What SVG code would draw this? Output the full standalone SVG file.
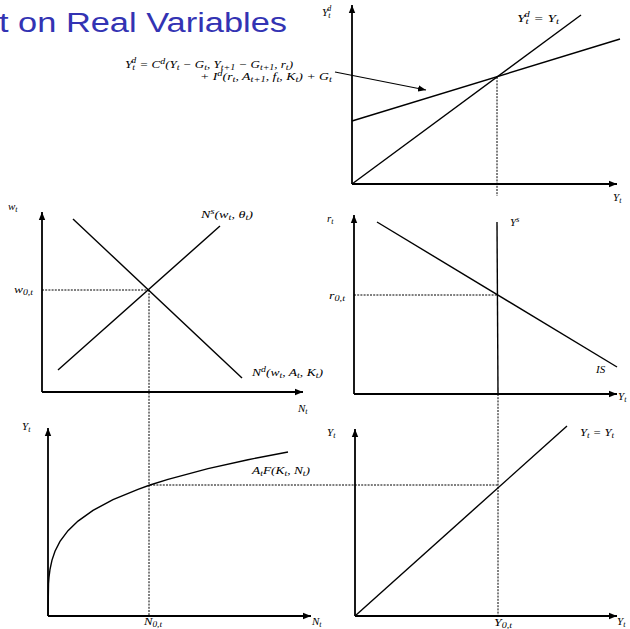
<svg xmlns="http://www.w3.org/2000/svg" width="630" height="629" viewBox="0 0 630 629">
<defs>
<marker id="ah" markerUnits="userSpaceOnUse" markerWidth="9" markerHeight="8" refX="8" refY="4" orient="auto">
<path d="M0,0.8 L8,4 L0,7.2 Z" fill="#000"/>
</marker>
<style>
.ax{stroke:#000;stroke-width:1.8;fill:none;marker-end:url(#ah)}
.cv{stroke:#000;stroke-width:1.4;fill:none}
.dt{stroke:#000;stroke-width:1;stroke-dasharray:2,1.2;fill:none}
.ptr{stroke:#000;stroke-width:1.2;fill:none;marker-end:url(#ah)}
.m{font-family:"Liberation Serif","DejaVu Serif",serif;font-style:italic;font-size:11px;fill:#000}
.eq{font-size:10.5px}
.s{font-size:8px}
.ti{font-family:"Liberation Sans","DejaVu Sans",sans-serif;font-size:27px;fill:#3333B3}
</style>
</defs>
<rect width="630" height="629" fill="#fff"/>
<text class="ti" x="-1" y="32" textLength="288" lengthAdjust="spacingAndGlyphs">t on Real Variables</text>

<g id="panel-goods">
<path class="ax" d="M352,184 V5"/>
<path class="ax" d="M352,184 H617"/>
<path class="cv" d="M352,184 L581,15"/>
<path class="cv" d="M352,121 L620,39"/>
<text class="m" x="322" y="16">Y<tspan class="s" dy="2">t</tspan><tspan class="s" dx="-3" dy="-7">d</tspan></text>
<text class="m" x="517" y="22" textLength="42" lengthAdjust="spacingAndGlyphs">Y<tspan class="s" dy="2">t</tspan><tspan class="s" dx="-3" dy="-7">d</tspan><tspan dy="5"> = Y</tspan><tspan class="s" dy="2">t</tspan></text>
<text class="m" x="613" y="201">Y<tspan class="s" dy="2">t</tspan></text>
<text class="m eq" x="125" y="68" textLength="168" lengthAdjust="spacingAndGlyphs">Y<tspan class="s" dy="2">t</tspan><tspan class="s" dx="-3" dy="-7">d</tspan><tspan dy="5"> = C</tspan><tspan class="s" dy="-4">d</tspan><tspan dy="4">(Y</tspan><tspan class="s" dy="2">t</tspan><tspan dy="-2"> − G</tspan><tspan class="s" dy="2">t</tspan><tspan dy="-2">, Y</tspan><tspan class="s" dy="2">t+1</tspan><tspan dy="-2"> − G</tspan><tspan class="s" dy="2">t+1</tspan><tspan dy="-2">, r</tspan><tspan class="s" dy="2">t</tspan><tspan dy="-2">)</tspan></text>
<text class="m eq" x="200" y="80" textLength="132" lengthAdjust="spacingAndGlyphs">+ I<tspan class="s" dy="-4">d</tspan><tspan dy="4">(r</tspan><tspan class="s" dy="2">t</tspan><tspan dy="-2">, A</tspan><tspan class="s" dy="2">t+1</tspan><tspan dy="-2">, f</tspan><tspan class="s" dy="2">t</tspan><tspan dy="-2">, K</tspan><tspan class="s" dy="2">t</tspan><tspan dy="-2">) + G</tspan><tspan class="s" dy="2">t</tspan></text>
</g>

<g id="panel-labor">
<path class="ax" d="M42,392 V212"/>
<path class="ax" d="M42,392 H303"/>
<path class="cv" d="M58,370 L220,226"/>
<path class="cv" d="M73,219 L242,378"/>
<text class="m" x="8" y="210">w<tspan class="s" dy="2">t</tspan></text>
<text class="m" x="14" y="293" textLength="19" lengthAdjust="spacingAndGlyphs">w<tspan class="s" dy="2">0,t</tspan></text>
<text class="m" x="201" y="218" textLength="52" lengthAdjust="spacingAndGlyphs">N<tspan class="s" dy="-4">s</tspan><tspan dy="4">(w</tspan><tspan class="s" dy="2">t</tspan><tspan dy="-2">, θ</tspan><tspan class="s" dy="2">t</tspan><tspan dy="-2">)</tspan></text>
<text class="m" x="252" y="376" textLength="71" lengthAdjust="spacingAndGlyphs">N<tspan class="s" dy="-4">d</tspan><tspan dy="4">(w</tspan><tspan class="s" dy="2">t</tspan><tspan dy="-2">, A</tspan><tspan class="s" dy="2">t</tspan><tspan dy="-2">, K</tspan><tspan class="s" dy="2">t</tspan><tspan dy="-2">)</tspan></text>
<text class="m" x="298" y="412">N<tspan class="s" dy="2">t</tspan></text>
</g>

<g id="panel-is">
<path class="ax" d="M354,394 V215"/>
<path class="ax" d="M354,394 H617"/>
<path class="cv" d="M377,222 L617,367"/>
<path class="cv" d="M497,222 L498,394"/>
<text class="m" x="327" y="222">r<tspan class="s" dy="2">t</tspan></text>
<text class="m" x="329" y="299" textLength="16" lengthAdjust="spacingAndGlyphs">r<tspan class="s" dy="2">0,t</tspan></text>
<text class="m" x="510" y="226">Y<tspan class="s" dy="-4">s</tspan></text>
<text class="m" x="596" y="373">IS</text>
<text class="m" x="618" y="400">Y<tspan class="s" dy="2">t</tspan></text>
</g>

<g id="panel-production">
<path class="ax" d="M48,616 V428"/>
<path class="ax" d="M48,616 H311"/>
<path class="cv" d="M48,616 L48.5,583.7 L49,577.2 L50,569.4 L52,560.1 L55,551.3 L60,541.4 L68,530.7 L78,521.1 L93,510.4 L113,499.7 L138,489.3 L150,485 L168,479.3 L208,468.6 L248,459.7 L288,452"/>
<text class="m" x="22" y="430">Y<tspan class="s" dy="2">t</tspan></text>
<text class="m" x="252" y="474" textLength="58" lengthAdjust="spacingAndGlyphs">A<tspan class="s" dy="2">t</tspan><tspan dy="-2">F(K</tspan><tspan class="s" dy="2">t</tspan><tspan dy="-2">, N</tspan><tspan class="s" dy="2">t</tspan><tspan dy="-2">)</tspan></text>
<text class="m" x="144" y="625" textLength="18" lengthAdjust="spacingAndGlyphs">N<tspan class="s" dy="2">0,t</tspan></text>
<text class="m" x="312" y="625">N<tspan class="s" dy="2">t</tspan></text>
<text class="m" x="494" y="626" textLength="18" lengthAdjust="spacingAndGlyphs">Y<tspan class="s" dy="2">0,t</tspan></text>
<text class="m" x="617" y="625">Y<tspan class="s" dy="2">t</tspan></text>
</g>

<g id="panel-identity">
<path class="ax" d="M355,616 V429"/>
<path class="ax" d="M355,616 H617"/>
<path class="cv" d="M355,616 L567,426"/>
<text class="m" x="327" y="436">Y<tspan class="s" dy="2">t</tspan></text>
<text class="m" x="580" y="436" textLength="34" lengthAdjust="spacingAndGlyphs">Y<tspan class="s" dy="2">t</tspan><tspan dy="-2"> = Y</tspan><tspan class="s" dy="2">t</tspan></text>
</g>

<g id="connectors">
<path class="ptr" d="M335,72 L426,90"/>
<path class="dt" d="M497,77 V196"/>
<path class="dt" d="M498,394 V616"/>
<path class="dt" d="M42,290 H148"/>
<path class="dt" d="M149,290 V616"/>
<path class="dt" d="M354,295 H497"/>
<path class="dt" d="M150,485 H498"/>
</g>
</svg>
